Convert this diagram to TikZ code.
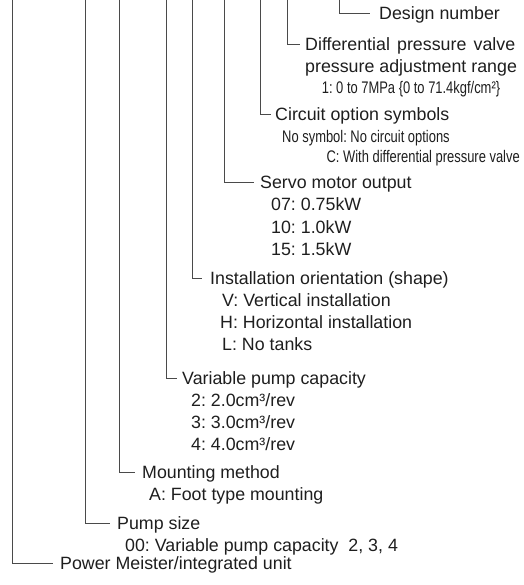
\documentclass[tikz,border=0pt]{standalone}
\usepackage{fontspec}
\setmainfont{Liberation Sans}
\newfontfamily\narrowfont[FakeStretch=0.77]{Liberation Sans}
\usetikzlibrary{calc}
\frenchspacing
\definecolor{linec}{HTML}{4A4A4A}
\definecolor{textc}{HTML}{1E1E1E}
\tikzset{
  lbl/.style={anchor=base west, inner sep=0pt, text=textc, font=\fontsize{17.8}{22}\selectfont},
  nlbl/.style={anchor=base west, inner sep=0pt, text=textc, font=\narrowfont\fontsize{16.8}{18}\selectfont},
  lead/.style={draw=linec, line width=1pt},
}
\begin{document}
\begin{tikzpicture}[x=1pt,y=-1pt]
\useasboundingbox (0,0) rectangle (523,585);
% tops of the vertical leaders
\coordinate (vPower)  at (12,0);
\coordinate (vPump)   at (85,0);
\coordinate (vMount)  at (119,0);
\coordinate (vVar)    at (166,0);
\coordinate (vInst)   at (192,0);
\coordinate (vServo)  at (224,0);
\coordinate (vCirc)   at (260,0);
\coordinate (vDiff)   at (287,0);
\coordinate (vDesign) at (339,0);

% labels
\node[lbl] (tDesign) at (379,20) {Design number};

\node[lbl] (tDiff) at (305,51) {\makebox[210pt][s]{Differential pressure valve}};
\node[lbl] (tDiff2) at (305,73) {pressure adjustment range};
\node[nlbl, anchor=base] (tDiff3) at (411,94) {1: 0 to 7MPa \{0 to 71.4kgf/cm²\}};

\node[lbl] (tCirc) at (275,121) {Circuit option symbols};
\node[nlbl] (tCirc1) at (282,143) {No symbol: No circuit options};
\node[nlbl, anchor=base east] (tCirc2) at (520,163) {C: With differential pressure valve};

\node[lbl] (tServo) at (260,189) {Servo motor output};
\node[lbl] (tServo1) at (271,211) {07: 0.75kW};
\node[lbl] (tServo2) at (271,233) {10: 1.0kW};
\node[lbl] (tServo3) at (271,255) {15: 1.5kW};

\node[lbl] (tInst) at (210,284) {Installation orientation (shape)};
\node[lbl] (tInst1) at (222,306) {V: Vertical installation};
\node[lbl] (tInst2) at (220,328) {H: Horizontal installation};
\node[lbl] (tInst3) at (222,350) {L: No tanks};

\node[lbl] (tVar) at (182,384) {Variable pump capacity};
\node[lbl] (tVar1) at (191,406) {2: 2.0cm³/rev};
\node[lbl] (tVar2) at (191,428) {3: 3.0cm³/rev};
\node[lbl] (tVar3) at (191,450) {4: 4.0cm³/rev};

\node[lbl] (tMount) at (142,478) {Mounting method};
\node[lbl] (tMount1) at (149,500) {A: Foot type mounting};

\node[lbl] (tPump) at (117,529) {Pump size};
\node[lbl] (tPump1) at (125,551) {00: Variable pump capacity\ \ 2, 3, 4};

\node[lbl] (tPower) at (60,569) {Power Meister/integrated unit};

% leaders
\draw[lead] (vDesign) |- ([xshift=-9pt,yshift=6pt]tDesign.base west);
\draw[lead] (vDiff)   |- ([xshift=-5pt,yshift=6pt]tDiff.base west);
\draw[lead] (vCirc)   |- ([xshift=-4pt,yshift=6pt]tCirc.base west);
\draw[lead] (vServo)  |- ([xshift=-6pt,yshift=6pt]tServo.base west);
\draw[lead] (vInst)   |- ([xshift=-8pt,yshift=6pt]tInst.base west);
\draw[lead] (vVar)    |- ([xshift=-5pt,yshift=6pt]tVar.base west);
\draw[lead] (vMount)  |- ([xshift=-7pt,yshift=6pt]tMount.base west);
\draw[lead] (vPump)   |- ([xshift=-7pt,yshift=6pt]tPump.base west);
\draw[lead] (vPower)  |- ([xshift=-7pt,yshift=6pt]tPower.base west);
\end{tikzpicture}
\end{document}
